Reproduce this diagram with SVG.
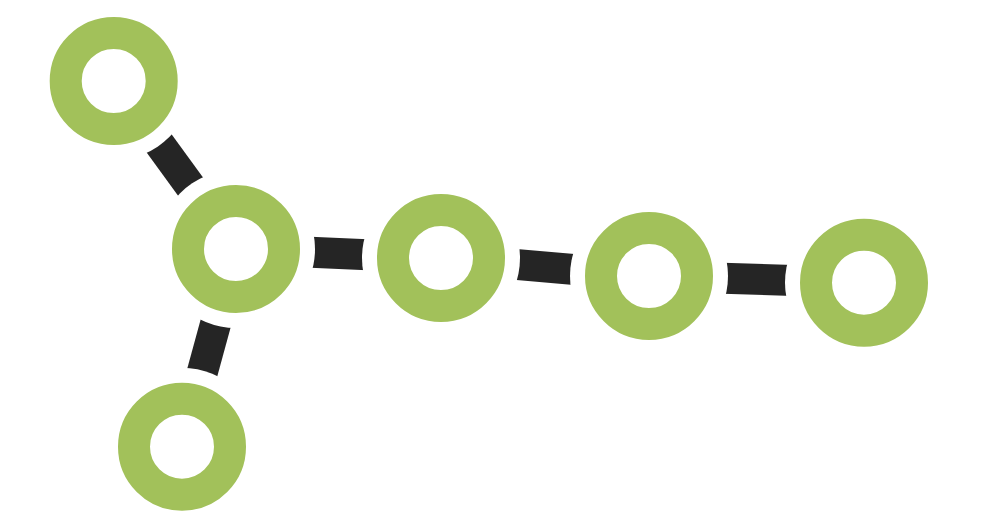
<svg xmlns="http://www.w3.org/2000/svg" width="992" height="528" viewBox="0 0 992 528">
  <style>
    .ring { fill: none; stroke: #a2c15a; stroke-width: 32; }
    .bar { stroke: #252525; stroke-width: 31; stroke-linecap: butt; fill: none; }
  </style>
  <defs>
    <mask id="clear" maskUnits="userSpaceOnUse" x="0" y="0" width="992" height="528">
      <rect x="0" y="0" width="992" height="528" fill="#fff"/>
      <circle cx="113.7" cy="81" r="79" fill="#000"/>
      <circle cx="236" cy="249" r="79" fill="#000"/>
      <circle cx="441" cy="258" r="79" fill="#000"/>
      <circle cx="649" cy="276" r="79" fill="#000"/>
      <circle cx="864" cy="282.7" r="79" fill="#000"/>
      <circle cx="182" cy="446.7" r="79" fill="#000"/>
    </mask>
  </defs>
  <rect x="0" y="0" width="992" height="528" fill="#ffffff"/>
  <g id="connectors" mask="url(#clear)">
    <line class="bar" x1="113.7" y1="81" x2="236" y2="249"/>
    <line class="bar" x1="236" y1="249" x2="441" y2="258"/>
    <line class="bar" x1="441" y1="258" x2="649" y2="276"/>
    <line class="bar" x1="649" y1="276" x2="864" y2="282.7"/>
    <line class="bar" x1="236" y1="249" x2="182" y2="446.7"/>
  </g>
  <g id="node1"><circle class="ring" cx="113.7" cy="81" r="48"/></g>
  <g id="node2"><circle class="ring" cx="236" cy="249" r="48"/></g>
  <g id="node3"><circle class="ring" cx="441" cy="258" r="48"/></g>
  <g id="node4"><circle class="ring" cx="649" cy="276" r="48"/></g>
  <g id="node5"><circle class="ring" cx="864" cy="282.7" r="48"/></g>
  <g id="node6"><circle class="ring" cx="182" cy="446.7" r="48"/></g>
</svg>
